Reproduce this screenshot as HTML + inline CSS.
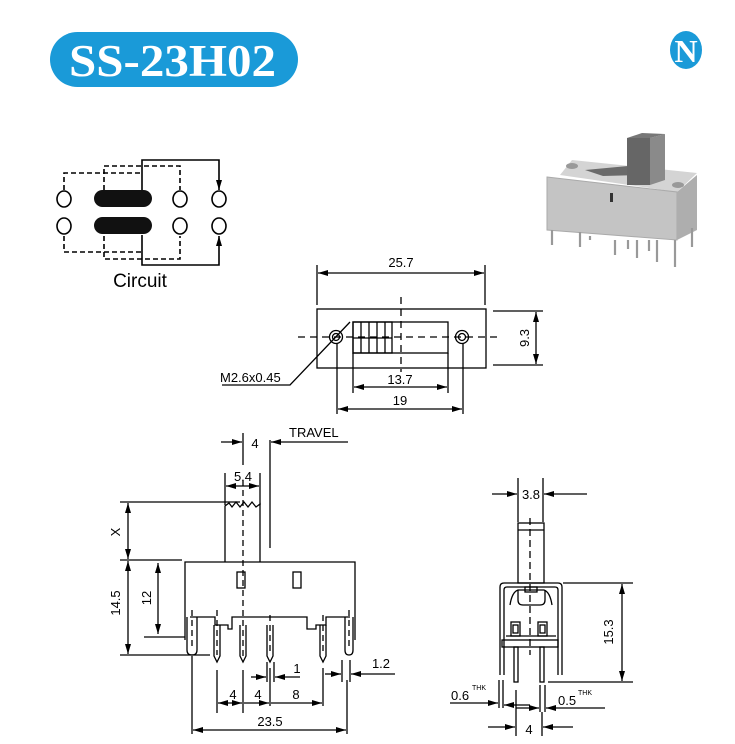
<!DOCTYPE html>
<html><head><meta charset="utf-8"><style>
html,body{margin:0;padding:0;background:#fff;}
svg{display:block;font-family:"Liberation Sans",sans-serif;}
</style></head><body>
<svg width="735" height="744" viewBox="0 0 735 744" xmlns="http://www.w3.org/2000/svg">
<defs>
<marker id="a" viewBox="0 0 10 6" refX="10" refY="3" markerWidth="10" markerHeight="6" orient="auto-start-reverse" markerUnits="userSpaceOnUse"><path d="M0,0 L10,3 L0,6 z" fill="#000"/></marker>
</defs>
<rect width="735" height="744" fill="#fff"/>
<!-- title -->
<rect x="50" y="32" width="248" height="55" rx="27.5" fill="#1a9ad8"/>
<text x="69" y="76" textLength="207" lengthAdjust="spacingAndGlyphs" font-family="Liberation Serif,serif" font-weight="bold" font-size="45" fill="#fff">SS-23H02</text>
<!-- logo -->
<ellipse cx="686" cy="50" rx="16" ry="19" fill="#1a9ad8"/>
<text x="686" y="62" text-anchor="middle" font-family="Liberation Serif,serif" font-weight="bold" font-size="32" fill="#fff">N</text>

<!-- circuit -->
<g fill="none" stroke="#000" stroke-width="1.6">
<ellipse cx="64" cy="199" rx="7" ry="8"/><ellipse cx="64" cy="226" rx="7" ry="8"/>
<ellipse cx="180" cy="199" rx="7" ry="8"/><ellipse cx="180" cy="226" rx="7" ry="8"/>
<ellipse cx="219" cy="199" rx="7" ry="8"/><ellipse cx="219" cy="226" rx="7" ry="8"/>
<path d="M142,190 V160 H219 V190" marker-end="url(#a)"/>
<path d="M142,235 V265 H219 V236" marker-end="url(#a)"/>
<g stroke-dasharray="5,3">
<path d="M64,190 V173 H142"/><path d="M104,190 V166 H180 V190"/>
<path d="M64,236 V252 H142"/><path d="M104,236 V259 H180 V236"/>
</g>
</g>
<rect x="94" y="190" width="58" height="17" rx="8.5" fill="#111"/>
<rect x="94" y="217" width="58" height="17" rx="8.5" fill="#111"/>
<text x="140" y="287" text-anchor="middle" font-size="19">Circuit</text>

<!-- photo -->
<polygon points="560,175 572,160 697,173 677,192" fill="#d4d4d4"/>
<polygon points="585,170 628,166 640,175 603,176" fill="#6a6a6a"/>
<polygon points="547,177 677,192 677,240 547,230" fill="#c4c4c4" stroke="#aaa"/>
<polygon points="677,192 697,175 697,230 677,240" fill="#aeaeae"/>
<rect x="627" y="138" width="23" height="47" fill="#666"/>
<polygon points="650,138 665,134 665,180 650,185" fill="#8a8a8a"/>
<polygon points="627,138 642,133 665,134 650,138" fill="#777"/>
<ellipse cx="572" cy="166" rx="6" ry="3" fill="#999"/><ellipse cx="678" cy="185" rx="6" ry="3" fill="#999"/>
<rect x="610" y="193" width="3" height="9" fill="#333"/>
<g stroke="#999" stroke-width="2.2">
<line x1="552" y1="230" x2="552" y2="245"/><line x1="580" y1="232" x2="580" y2="247"/><line x1="590" y1="236" x2="590" y2="240"/>
<line x1="615" y1="240" x2="615" y2="255"/><line x1="628" y1="240" x2="628" y2="249"/><line x1="637" y1="240" x2="637" y2="258"/>
<line x1="649" y1="240" x2="649" y2="251"/><line x1="657" y1="240" x2="657" y2="262"/><line x1="675" y1="240" x2="675" y2="267"/><line x1="692" y1="228" x2="692" y2="247"/>
</g>

<!-- top view -->
<g fill="none" stroke="#000" stroke-width="1.3">
<rect x="317" y="309" width="169" height="59"/>
<rect x="353" y="322" width="95" height="31"/>
<rect x="353" y="322" width="39" height="31"/>
<line x1="361" y1="322" x2="361" y2="353"/><line x1="369" y1="322" x2="369" y2="353"/><line x1="377" y1="322" x2="377" y2="353"/><line x1="385" y1="322" x2="385" y2="353"/>
<line x1="353" y1="338" x2="392" y2="338"/>
<circle cx="336" cy="337" r="6.5"/><circle cx="336" cy="337" r="3.5"/>
<circle cx="462" cy="337" r="6.5"/><circle cx="462" cy="337" r="3.5"/>
<line x1="298" y1="337" x2="500" y2="337" stroke-dasharray="7,5"/>
<line x1="401" y1="297" x2="401" y2="372" stroke-dasharray="7,5"/>
<line x1="317" y1="265" x2="317" y2="305"/><line x1="485" y1="265" x2="485" y2="305"/>
<line x1="318" y1="273" x2="484" y2="273" marker-start="url(#a)" marker-end="url(#a)"/>
<line x1="493" y1="311" x2="543" y2="311"/><line x1="493" y1="365" x2="543" y2="365"/>
<line x1="536" y1="312" x2="536" y2="364" marker-start="url(#a)" marker-end="url(#a)"/>
<line x1="353" y1="353" x2="353" y2="393"/><line x1="448" y1="353" x2="448" y2="393"/>
<line x1="354" y1="387" x2="447" y2="387" marker-start="url(#a)" marker-end="url(#a)"/>
<line x1="337" y1="343" x2="337" y2="414"/><line x1="463" y1="343" x2="463" y2="414"/>
<line x1="338" y1="409" x2="462" y2="409" marker-start="url(#a)" marker-end="url(#a)"/>
<path d="M350,322 L290,385 H222"/>
</g>
<g font-size="13">
<text x="401" y="267" text-anchor="middle">25.7</text>
<text x="400" y="384" text-anchor="middle">13.7</text>
<text x="400" y="405" text-anchor="middle">19</text>
<text x="220" y="382">M2.6x0.45</text>
<text transform="translate(529,338) rotate(-90)" text-anchor="middle">9.3</text>
</g>

<!-- front view -->
<g fill="none" stroke="#000" stroke-width="1.3">
<path d="M185,640 V562 H355 V640"/>
<path d="M225,562 V506 L229,503 L232,507 L236,502 L240,507 L244,502 L248,507 L252,502 L256,507 L260,504 V562"/>
<rect x="237" y="572" width="8" height="16"/><rect x="293" y="572" width="8" height="16"/>
<path d="M190,617 H215 V625 H228 V629 H232 V617 H307 V629 H316 V625 H326 V617 H350"/>
<path d="M187,617 V650 Q187,655 192,655 Q197,655 197,650 V617"/>
<path d="M345,617 V650 Q345,655 349,655 Q353,655 353,650 V617"/>
<path d="M214,625 V656 L217,662 L220,656 V625"/>
<path d="M240,625 V656 L243,662 L246,656 V625"/>
<path d="M267,625 V656 L270,662 L273,656 V625"/>
<path d="M320,625 V656 L323,662 L326,656 V625"/>
<g stroke-dasharray="6,4">
<line x1="243" y1="480" x2="243" y2="660"/>
<line x1="217" y1="610" x2="217" y2="655"/><line x1="270" y1="615" x2="270" y2="655"/><line x1="323" y1="615" x2="323" y2="655"/>
<line x1="192" y1="610" x2="192" y2="650"/><line x1="349" y1="610" x2="349" y2="650"/>
</g>
<line x1="243" y1="433" x2="243" y2="465"/><line x1="270" y1="440" x2="270" y2="548"/>
<line x1="221" y1="442" x2="242" y2="442" marker-end="url(#a)"/>
<line x1="348" y1="442" x2="271" y2="442" marker-end="url(#a)"/>
<line x1="225" y1="473" x2="225" y2="505"/><line x1="260" y1="473" x2="260" y2="505"/>
<line x1="226" y1="486" x2="259" y2="486" marker-start="url(#a)" marker-end="url(#a)"/>
<line x1="120" y1="502" x2="240" y2="502"/><line x1="120" y1="560" x2="182" y2="560"/>
<line x1="128" y1="503" x2="128" y2="559" marker-start="url(#a)" marker-end="url(#a)"/>
<line x1="128" y1="561" x2="128" y2="654" marker-start="url(#a)" marker-end="url(#a)"/>
<line x1="120" y1="655" x2="210" y2="655"/>
<line x1="158" y1="563" x2="158" y2="634" marker-start="url(#a)" marker-end="url(#a)"/>
<line x1="144" y1="637" x2="185" y2="637"/>
<line x1="217" y1="670" x2="217" y2="713"/><line x1="243" y1="670" x2="243" y2="713"/><line x1="270" y1="668" x2="270" y2="706"/><line x1="323" y1="668" x2="323" y2="706"/>
<line x1="218" y1="703" x2="242" y2="703" marker-start="url(#a)" marker-end="url(#a)"/>
<line x1="244" y1="703" x2="269" y2="703" marker-end="url(#a)"/>
<line x1="271" y1="703" x2="322" y2="703" marker-end="url(#a)"/>
<line x1="267" y1="662" x2="267" y2="682"/><line x1="274" y1="662" x2="274" y2="682"/>
<line x1="251" y1="677" x2="266" y2="677" marker-end="url(#a)"/>
<line x1="300" y1="677" x2="275" y2="677" marker-end="url(#a)"/>
<line x1="342" y1="660" x2="342" y2="682"/><line x1="350" y1="660" x2="350" y2="682"/>
<line x1="325" y1="674" x2="341" y2="674" marker-end="url(#a)"/>
<line x1="395" y1="674" x2="351" y2="674" marker-end="url(#a)"/>
<line x1="192" y1="656" x2="192" y2="734"/><line x1="347" y1="680" x2="347" y2="734"/>
<line x1="193" y1="730" x2="346" y2="730" marker-start="url(#a)" marker-end="url(#a)"/>
</g>
<g font-size="13">
<text x="255" y="448" text-anchor="middle">4</text>
<text x="289" y="437">TRAVEL</text>
<text x="243" y="481" text-anchor="middle">5.4</text>
<text transform="translate(120,532) rotate(-90)" text-anchor="middle">X</text>
<text transform="translate(120,603) rotate(-90)" text-anchor="middle">14.5</text>
<text transform="translate(151,598) rotate(-90)" text-anchor="middle">12</text>
<text x="233" y="699" text-anchor="middle">4</text>
<text x="258" y="699" text-anchor="middle">4</text>
<text x="296" y="699" text-anchor="middle">8</text>
<text x="297" y="673" text-anchor="middle">1</text>
<text x="381" y="668" text-anchor="middle">1.2</text>
<text x="270" y="726" text-anchor="middle">23.5</text>
</g>

<!-- side view -->
<g fill="none" stroke="#000" stroke-width="1.3">
<rect x="518" y="523" width="26" height="60"/><line x1="518" y1="530" x2="544" y2="530"/>
<line x1="518" y1="478" x2="518" y2="522"/><line x1="543" y1="478" x2="543" y2="522"/>
<line x1="492" y1="494" x2="517" y2="494" marker-end="url(#a)"/>
<line x1="587" y1="494" x2="544" y2="494" marker-end="url(#a)"/>
<path d="M500,675 V587 Q500,583 504,583 H558 Q562,583 562,587 V675"/>
<path d="M504,675 V590 Q504,587 507,587 H555 Q558,587 558,590 V675"/>
<path d="M510,605 Q512,592 518,590 H544 Q550,592 552,605"/>
<path d="M518,590 V600 Q518,605 523,605 H540 Q545,605 545,600 V590"/>
<rect x="525" y="587" width="12" height="5"/>
<rect x="511" y="622" width="9" height="14"/><rect x="513" y="625" width="5" height="8"/>
<rect x="538" y="622" width="9" height="14"/><rect x="540" y="625" width="5" height="8"/>
<line x1="506" y1="636" x2="556" y2="636"/>
<rect x="502" y="640" width="56" height="7"/>
<rect x="514" y="647" width="4" height="35"/><rect x="540" y="647" width="4" height="35"/>
<line x1="530" y1="518" x2="530" y2="655" stroke-dasharray="7,4"/>
<line x1="563" y1="583" x2="633" y2="583"/><line x1="548" y1="682" x2="633" y2="682"/>
<line x1="622" y1="584" x2="622" y2="681" marker-start="url(#a)" marker-end="url(#a)"/>
<line x1="499" y1="680" x2="499" y2="708"/><line x1="503" y1="680" x2="503" y2="708"/>
<line x1="450" y1="703" x2="498" y2="703" marker-end="url(#a)"/>
<line x1="530" y1="705" x2="504" y2="705" marker-end="url(#a)"/>
<line x1="540" y1="685" x2="540" y2="712"/><line x1="545" y1="685" x2="545" y2="712"/>
<line x1="516" y1="708" x2="539" y2="708" marker-end="url(#a)"/>
<line x1="605" y1="708" x2="546" y2="708" marker-end="url(#a)"/>
<line x1="516" y1="690" x2="516" y2="736"/><line x1="542" y1="712" x2="542" y2="736"/>
<line x1="488" y1="727" x2="515" y2="727" marker-end="url(#a)"/>
<line x1="573" y1="727" x2="543" y2="727" marker-end="url(#a)"/>
</g>
<g font-size="13">
<text x="531" y="499" text-anchor="middle">3.8</text>
<text transform="translate(613,632) rotate(-90)" text-anchor="middle">15.3</text>
<text x="451" y="700">0.6</text><text x="472" y="690" font-size="7">THK</text>
<text x="558" y="705">0.5</text><text x="578" y="695" font-size="7">THK</text>
<text x="529" y="734" text-anchor="middle">4</text>
</g>
</svg>
</body></html>
